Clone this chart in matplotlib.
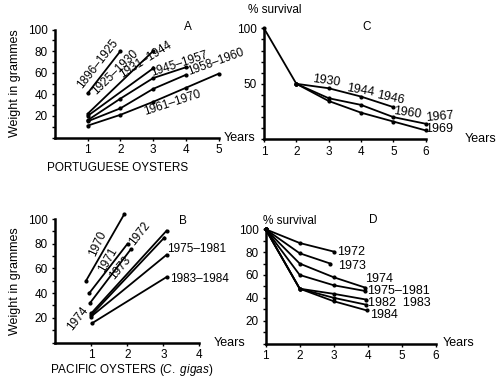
"""
Oyster growth and survival -- four panels (A-D) redrawn with matplotlib.
"""
import matplotlib
matplotlib.use("Agg")
import matplotlib.pyplot as plt
from matplotlib.ticker import MultipleLocator

plt.rcParams["font.family"] = ["Liberation Sans", "DejaVu Sans"]
plt.rcParams["mathtext.fontset"] = "custom"
plt.rcParams["mathtext.rm"] = "Liberation Sans"
plt.rcParams["mathtext.it"] = "Liberation Sans:italic"

# --- Panel A: Portuguese oysters, weight (g) by year of life
a_labels = ["1896–1925", "1925–1930", "1931–1944", "1945–1957", "1958–1960", "1961–1970"]
a_x = [[1, 2], [1, 3], [1, 3], [1, 2, 3, 4], [1, 2, 3, 4], [1, 2, 3, 4, 5]]
a_y = [[41, 80], [22, 80], [20, 64], [16, 36, 55, 65], [15, 27, 45, 58], [11, 21, 33, 46, 59]]
a_lab_pos = [(1.3, 68), (1.83, 60), (2.78, 72), (3.8, 68), (4.92, 69.5), (3.6, 32)]
a_lab_rot = [52, 44, 32, 18, 20, 18]

# --- Panel B: Pacific oysters, weight (g)
b_x = [[0.86, 1.92], [0.95, 2.01], [0.97, 2.1], [1.0, 3.09], [1.0, 3.03], [1.0, 3.09], [1.02, 3.09]]
b_y = [[50, 104], [40, 80], [32, 75.5], [23.5, 90.5], [22, 85], [21, 71], [15.5, 53]]
b_labels = ["1970", "1971", "1973", "1972", "1974", "1975–1981", "1983–1984"]
b_lab_pos = [(1.2, 80), (1.48, 67), (1.8, 60), (2.35, 88), (0.62, 19), (3.1, 75.5), (3.18, 51.5)]
b_lab_rot = [65, 60, 50, 52, 52, 0, 0]

# --- Panel C: Portuguese oysters, % survival
c_x = [[1, 2], [2, 3, 4, 5], [2, 3, 4, 5, 6], [2, 3, 4, 5, 6]]
c_y = [[100, 50], [50, 46, 38.5, 29], [50, 37, 31, 20, 14], [50, 34.5, 24, 16, 8]]
c_labels = ["1930", "1944", "1946", "1960", "1967", "1969"]
c_lab_pos = [(2.94, 52.5), (3.97, 44), (4.9, 37.5), (5.42, 23.5), (6.42, 20), (6.42, 9.5)]
c_lab_rot = [-8, -10, -12, -8, 5, 0]

# --- Panel D: Pacific oysters, % survival
d_x = [[1, 2, 3], [1, 2, 2.9], [1, 2, 3, 3.92], [1, 2, 3, 3.92],
       [1, 2, 3, 3.95], [1, 2, 3, 3.95], [1, 2, 3, 3.97]]
d_y = [[100, 88, 80.5], [100, 79, 70], [100, 70, 58, 49], [100, 60, 51, 46],
       [100, 48, 43.5, 38.5], [100, 48, 40, 34], [100, 48, 37, 29]]
d_labels = ["1972", "1973", "1974", "1975–1981", "1982  1983", "1984"]
d_lab_pos = [(3.09, 80), (3.14, 68), (3.92, 56.5), (3.97, 46), (4.02, 35.5), (4.07, 25)]

W, H = 500, 387
FS = 8.5


def add_px_axes(fig, left, right, bottom, top):
    # pixel box (top-left origin) -> figure fraction
    return fig.add_axes([left / W, (H - bottom) / H, (right - left) / W, (bottom - top) / H])


def style(ax, xlim, ylim, xticks, yticks, yminor):
    ax.set_xlim(*xlim)
    ax.set_ylim(*ylim)
    for s in ["top", "right"]:
        ax.spines[s].set_visible(False)
    for s in ["left", "bottom"]:
        ax.spines[s].set_linewidth(1.8)
    ax.set_xticks(xticks)
    ax.set_yticks(yticks)
    ax.yaxis.set_minor_locator(MultipleLocator(yminor))
    ax.tick_params(which="both", direction="out", length=2, width=1, labelsize=FS, pad=3)
    ax.patch.set_alpha(0)


def draw(ax, xs, ys):
    for x, y in zip(xs, ys):
        ax.plot(x, y, color="black", lw=1.3, marker="o", ms=2, clip_on=False)


fig = plt.figure(figsize=(W / 100, H / 100), dpi=100)

# A
ax = add_px_axes(fig, 55, 218.5, 137.5, 29.5)
style(ax, (0, 5), (0, 100), [1, 2, 3, 4, 5], [20, 40, 60, 80, 100], 10)
draw(ax, a_x, a_y)
for t, (x, y), r in zip(a_labels, a_lab_pos, a_lab_rot):
    ax.text(x, y, t, rotation=r, ha="center", va="center", fontsize=FS)
ax.text(4.07, 102, "A", fontsize=FS, ha="center", va="center")
ax.set_ylabel("Weight in grammes", fontsize=FS + 0.5, labelpad=5)
ax.text(1.03, 0, "Years", transform=ax.transAxes, fontsize=FS + 0.5, ha="left", va="center")
fig.text(118 / W, 1 - 168 / H, "PORTUGUESE OYSTERS", fontsize=FS, ha="center", va="center")

# C
ax = add_px_axes(fig, 264, 425.7, 139.3, 28.3)
style(ax, (1, 6), (0, 100), [1, 2, 3, 4, 5, 6], [50, 100], 10)
draw(ax, c_x, c_y)
for t, (x, y), r in zip(c_labels, c_lab_pos, c_lab_rot):
    ax.text(x, y, t, rotation=r, ha="center", va="center", fontsize=FS + 0.5)
ax.text(4.18, 101.5, "C", fontsize=FS, ha="center", va="center")
ax.text(1.24, 0, "Years", transform=ax.transAxes, fontsize=FS + 0.5, ha="left", va="center")
fig.text(248 / W, 1 - 10 / H, "% survival", fontsize=FS, ha="left", va="center")

# B
ax = add_px_axes(fig, 55, 199.4, 342.5, 219)
style(ax, (0, 4), (0, 100), [1, 2, 3, 4], [20, 40, 60, 80, 100], 10)
draw(ax, b_x, b_y)
for t, (x, y), r in zip(b_labels, b_lab_pos, b_lab_rot):
    ha = "left" if r == 0 else "center"
    ax.text(x, y, t, rotation=r, ha=ha, va="center", fontsize=FS)
ax.text(3.55, 98, "B", fontsize=FS, ha="center", va="center")
ax.set_ylabel("Weight in grammes", fontsize=FS + 0.5, labelpad=5)
ax.text(1.1, 0, "Years", transform=ax.transAxes, fontsize=FS + 0.5, ha="left", va="center")
fig.text(132 / W, 1 - 370 / H, r"PACIFIC OYSTERS ($\mathit{C.\ gigas}$)",
         fontsize=FS, ha="center", va="center")

# D
ax = add_px_axes(fig, 265.7, 435.7, 343.5, 229.3)
style(ax, (1, 6), (0, 100), [1, 2, 3, 4, 5, 6], [20, 40, 60, 80, 100], 10)
draw(ax, d_x, d_y)
for t, (x, y) in zip(d_labels, d_lab_pos):
    ax.text(x, y, t, ha="left", va="center", fontsize=FS + 0.5)
ax.text(4.16, 108, "D", fontsize=FS, ha="center", va="center")
ax.text(1.04, 0, "Years", transform=ax.transAxes, fontsize=FS + 0.5, ha="left", va="center")
fig.text(263 / W, 1 - 221 / H, "% survival", fontsize=FS, ha="left", va="center")

fig.savefig("out.png", dpi=100)
